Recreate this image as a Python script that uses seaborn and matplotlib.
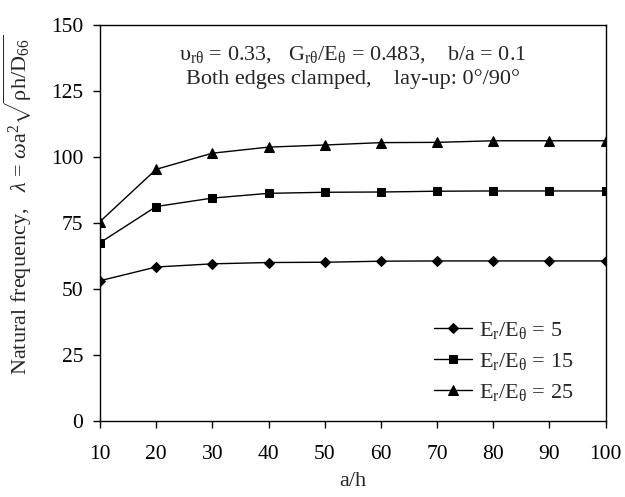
import numpy as np
import matplotlib
matplotlib.use('Agg')
import matplotlib.pyplot as plt
import pandas as pd
import seaborn as sns

# values
a_h = [10, 20, 30, 40, 50, 60, 70, 80, 90, 100]
lam_5 = [53.1, 58.3, 59.5, 60.0, 60.1, 60.5, 60.6, 60.6, 60.6, 60.6]
lam_15 = [67.5, 81.2, 84.4, 86.2, 86.6, 86.7, 87.0, 87.1, 87.1, 87.1]
lam_25 = [75.5, 95.3, 101.4, 103.7, 104.5, 105.4, 105.5, 106.1, 106.1, 106.1]
labels = [r'E$_\mathrm{r}$/E$_\mathrm{\theta}$ = 5',
          r'E$_\mathrm{r}$/E$_\mathrm{\theta}$ = 15',
          r'E$_\mathrm{r}$/E$_\mathrm{\theta}$ = 25']

df = pd.DataFrame({
    'a/h': a_h * 3,
    'lam': lam_5 + lam_15 + lam_25,
    'case': [labels[0]] * 10 + [labels[1]] * 10 + [labels[2]] * 10,
})

sns.set_style('white')
plt.rcParams['font.family'] = ['Liberation Serif', 'DejaVu Serif']
plt.rcParams['mathtext.fontset'] = 'custom'
plt.rcParams['mathtext.rm'] = 'Liberation Serif'
plt.rcParams['mathtext.it'] = 'Liberation Serif:italic'
plt.rcParams['mathtext.bf'] = 'Liberation Serif:bold'

fig = plt.figure(figsize=(6.25, 4.97), dpi=100)
ax = fig.add_axes([0.16, 0.153, 0.809, 0.797])

sns.lineplot(data=df, x='a/h', y='lam', hue='case', style='case',
             palette=['black'] * 3, markers=['D', 's', '^'], dashes=False,
             linewidth=1, markeredgecolor='black', ax=ax)
# per-series marker sizes
for line, ms in zip(ax.lines, [5.5, 6, 7.5]):
    line.set_markersize(ms)

ax.set_xlim(10, 100)
ax.set_ylim(0, 150)
ax.set_xticks(range(10, 101, 10))
ax.set_yticks(range(0, 151, 25))
ax.tick_params(axis='both', direction='out', length=5, width=1, labelsize=15.5,
               bottom=True, left=True, colors='black')
ax.tick_params(axis='x', pad=12)
ax.tick_params(axis='y', pad=7)
for s in ax.spines.values():
    s.set_color('black')
    s.set_linewidth(1)

ax.set_xlabel('a/h', fontsize=16)
ax.xaxis.set_label_coords(0.5, -0.128)
ax.set_ylabel(r'Natural frequency,   $\lambda$ = $\omega$a$^2$$\sqrt{\mathrm{\rho h/D_{66}}}$',
              fontsize=16)
ax.yaxis.set_label_coords(-0.13, 0.545)

ax.text(0.5, 0.924, r'$\mathrm{\upsilon_{r\theta}}$ = 0.33,   G$_\mathrm{r\theta}$/E$_\mathrm{\theta}$ = 0.483,    b/a = 0.1',
        transform=ax.transAxes, ha='center', va='center', fontsize=16)
ax.text(0.5, 0.862, 'Both edges clamped,    lay-up: 0\u00b0/90\u00b0',
        transform=ax.transAxes, ha='center', va='center', fontsize=16)

leg = ax.legend(loc='lower right', frameon=False, fontsize=16, handlelength=1.7,
                handletextpad=0.3, labelspacing=0.45, bbox_to_anchor=(0.975, -0.005))
for h, ms in zip(leg.legend_handles, [5.5, 6, 7.5]):
    h.set_markersize(ms)

fig.savefig('out.png', dpi=100)
